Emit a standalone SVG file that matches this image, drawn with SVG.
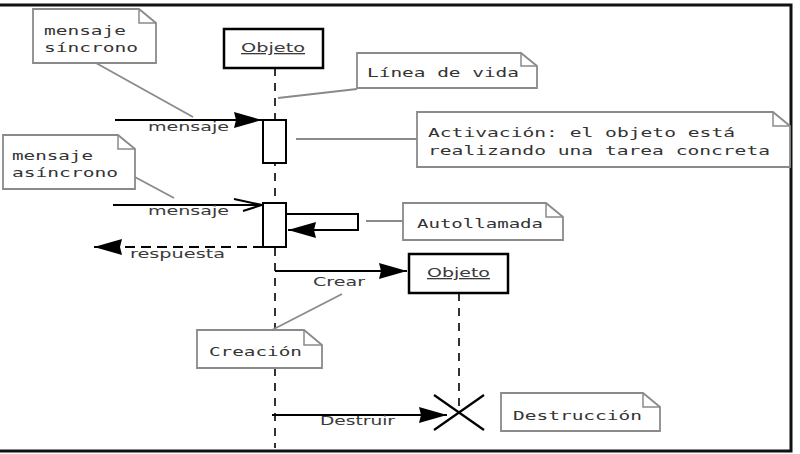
<svg xmlns="http://www.w3.org/2000/svg" width="800" height="454" viewBox="0 0 800 454">
<style>
.note{fill:#fff;stroke:#8a8a8a;stroke-width:1.8}
.fold{fill:none;stroke:#8a8a8a;stroke-width:1.5}
.nt{font-family:"DejaVu Sans Mono","Liberation Mono",monospace;font-size:13px;fill:#333}
.lbl{font-family:"DejaVu Sans","Liberation Sans",sans-serif;font-size:13px;fill:#3a3a3a}
.obj{fill:#fff;stroke:#000;stroke-width:2.5}
.act{fill:#fff;stroke:#000;stroke-width:2}
.life{stroke:#000;stroke-width:1.6;stroke-dasharray:8 7;fill:none}
.msg{stroke:#000;stroke-width:2;fill:none}
.ret{stroke:#000;stroke-width:2;stroke-dasharray:10 6;fill:none}
.cn{stroke:#8a8a8a;stroke-width:1.8;fill:none}
</style>
<defs>
<marker id="fa" markerUnits="userSpaceOnUse" markerWidth="32" markerHeight="20" refX="28" refY="9" orient="auto">
<path d="M0,1 L28,9 L0,17 L2,9 z" fill="#000"/>
</marker>
<marker id="oa" markerUnits="userSpaceOnUse" markerWidth="32" markerHeight="16" refX="29" refY="7" orient="auto">
<path d="M1,1 L29,7 L10,13" fill="none" stroke="#000" stroke-width="2"/>
</marker>
</defs>
<rect width="800" height="454" fill="#fff"/>
<g id="frame" fill="none" stroke="#111" stroke-width="3">
<path d="M0,5 H791 V451 H0"/>
</g>
<g id="lifelines">
<line class="life" x1="275" y1="68" x2="275" y2="448"/>
<line class="life" x1="459" y1="293" x2="459" y2="412"/>
</g>
<g id="connectors">
<line class="cn" x1="96" y1="63" x2="193" y2="117"/>
<line class="cn" x1="278" y1="98" x2="357" y2="89"/>
<line class="cn" x1="296" y1="139" x2="417" y2="139"/>
<line class="cn" x1="133" y1="176" x2="174" y2="198"/>
<line class="cn" x1="366" y1="221" x2="403" y2="221"/>
<line class="cn" x1="272" y1="330" x2="342" y2="294"/>
<line class="msg" x1="115" y1="120" x2="262" y2="120" marker-end="url(#fa)"/>
<line class="msg" x1="113" y1="205" x2="262" y2="205" marker-end="url(#oa)"/>
<line class="ret" x1="263" y1="247" x2="94" y2="247" marker-end="url(#fa)"/>
<path class="msg" d="M286,214 H358 V230 H288" marker-end="url(#fa)"/>
<line class="msg" x1="275" y1="271" x2="407" y2="271" marker-end="url(#fa)"/>
<line class="msg" x1="272" y1="415" x2="447" y2="415" marker-end="url(#fa)"/>
<text class="lbl" x="148" y="131" textLength="81" lengthAdjust="spacingAndGlyphs">mensaje</text>
<text class="lbl" x="148" y="215" textLength="81" lengthAdjust="spacingAndGlyphs">mensaje</text>
<text class="lbl" x="130" y="258" textLength="95" lengthAdjust="spacingAndGlyphs">respuesta</text>
<text class="lbl" x="313" y="286" textLength="52" lengthAdjust="spacingAndGlyphs">Crear</text>
<text class="lbl" x="320" y="425" textLength="75" lengthAdjust="spacingAndGlyphs">Destruir</text>
</g>
<g id="objeto1">
<rect class="obj" x="224" y="29" width="99" height="39"/>
<text class="lbl" x="241" y="52" textLength="64" lengthAdjust="spacingAndGlyphs" text-decoration="underline">Objeto</text>
</g>
<g id="objeto2">
<rect class="obj" x="409" y="254" width="99" height="39"/>
<text class="lbl" x="427" y="277" textLength="63" lengthAdjust="spacingAndGlyphs" text-decoration="underline">Objeto</text>
</g>
<g id="activacion1"><rect class="act" x="263" y="120" width="23" height="43"/></g>
<g id="activacion2"><rect class="act" x="263" y="203" width="23" height="44"/></g>
<g id="destruccion-x" stroke="#000" stroke-width="2.2">
<line x1="434" y1="395" x2="484" y2="430"/>
<line x1="484" y1="395" x2="434" y2="430"/>
</g>
<g id="nota-sincrono">
<path class="note" d="M33,9 H139 L156,23 V63 H33 Z"/>
<path class="fold" d="M139,9 V23 H156"/>
<text class="nt" x="44" y="35" textLength="82" lengthAdjust="spacingAndGlyphs">mensaje</text>
<text class="nt" x="44" y="52" textLength="94" lengthAdjust="spacingAndGlyphs">síncrono</text>
</g>
<g id="nota-linea">
<path class="note" d="M357,53 H521 L537,66 V88 H357 Z"/>
<path class="fold" d="M521,53 V66 H537"/>
<text class="nt" x="367" y="77" textLength="152" lengthAdjust="spacingAndGlyphs">Línea de vida</text>
</g>
<g id="nota-activacion">
<path class="note" d="M417,112 H773 L790,126 V167 H417 Z"/>
<path class="fold" d="M773,112 V126 H790"/>
<text class="nt" x="428" y="137" textLength="307" lengthAdjust="spacingAndGlyphs">Activación: el objeto está</text>
<text class="nt" x="428" y="155" textLength="342" lengthAdjust="spacingAndGlyphs">realizando una tarea concreta</text>
</g>
<g id="nota-asincrono">
<path class="note" d="M3,135 H118 L135,149 V189 H3 Z"/>
<path class="fold" d="M118,135 V149 H135"/>
<text class="nt" x="12" y="160" textLength="81" lengthAdjust="spacingAndGlyphs">mensaje</text>
<text class="nt" x="12" y="177" textLength="106" lengthAdjust="spacingAndGlyphs">asíncrono</text>
</g>
<g id="nota-autollamada">
<path class="note" d="M403,203 H546 L563,217 V240 H403 Z"/>
<path class="fold" d="M546,203 V217 H563"/>
<text class="nt" x="417" y="228" textLength="126" lengthAdjust="spacingAndGlyphs">Autollamada</text>
</g>
<g id="nota-creacion">
<path class="note" d="M197,330 H304 L322,345 V368 H197 Z"/>
<path class="fold" d="M304,330 V345 H322"/>
<text class="nt" x="209" y="356" textLength="93" lengthAdjust="spacingAndGlyphs">Creación</text>
</g>
<g id="nota-destruccion">
<path class="note" d="M501,393 H643 L660,407 V431 H501 Z"/>
<path class="fold" d="M643,393 V407 H660"/>
<text class="nt" x="513" y="420" textLength="129" lengthAdjust="spacingAndGlyphs">Destrucción</text>
</g>
</svg>
